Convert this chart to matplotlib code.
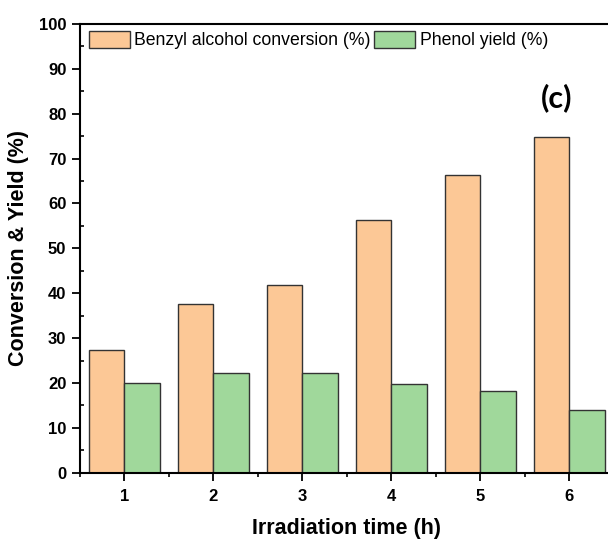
import matplotlib.pyplot as plt
import numpy as np
from matplotlib.ticker import MultipleLocator

# data
hours = [1, 2, 3, 4, 5, 6]
conversion = [27.4, 37.5, 41.9, 56.3, 66.4, 74.8]
phenol_yield = [20.0, 22.2, 22.3, 19.7, 18.1, 14.0]

plt.rcParams['font.family'] = ['Liberation Sans', 'DejaVu Sans']

fig = plt.figure(figsize=(6.08, 5.39), dpi=100)
ax = fig.add_axes([0.1316, 0.123, 0.878, 0.8325])

x = np.array(hours)
ax.bar(x, conversion, width=-0.4, align='edge', color='#FCC896',
       edgecolor='#333333', linewidth=1, label='Benzyl alcohol conversion (%)')
ax.bar(x, phenol_yield, width=0.4, align='edge', color='#A0D89B',
       edgecolor='#333333', linewidth=1, label='Phenol yield (%)')

ax.set_xlim(0.5, 6.5)
ax.set_ylim(0, 100)
ax.set_xticks(hours)
ax.set_yticks(range(0, 101, 10))
ax.xaxis.set_minor_locator(MultipleLocator(0.5))
ax.yaxis.set_minor_locator(MultipleLocator(5))
ax.tick_params(axis='both', which='major', direction='out', length=5.8, width=1.3,
               labelsize=12, pad=4)
ax.tick_params(axis='x', which='major', pad=6)
ax.tick_params(axis='x', which='minor', direction='out', length=2.8, width=1.2)
ax.tick_params(axis='y', which='minor', direction='in', length=2.8, width=1.2)
for lab in ax.get_xticklabels() + ax.get_yticklabels():
    lab.set_fontweight('bold')

for side in ['left', 'bottom', 'top', 'right']:
    ax.spines[side].set_linewidth(1.5)

ax.set_xlabel('Irradiation time (h)', fontsize=15.5, fontweight='bold')
ax.set_ylabel('Conversion & Yield (%)', fontsize=15.5, fontweight='bold')
ax.xaxis.set_label_coords(0.5, -0.1)
ax.yaxis.set_label_coords(-0.0955, 0.5)

ax.legend(loc='upper left', bbox_to_anchor=(0.017, 0.985), ncol=2, frameon=False,
          fontsize=12.7, handlelength=2.32, handleheight=1.13, handletextpad=0.25,
          columnspacing=0.2, borderpad=0, borderaxespad=0)

ax.text(0.893, 0.835, '(c)', transform=ax.transAxes, ha='center', va='center',
        fontsize=22, fontweight='bold', family=['Lato', 'DejaVu Sans'])

fig.savefig('out.png', dpi=100)
